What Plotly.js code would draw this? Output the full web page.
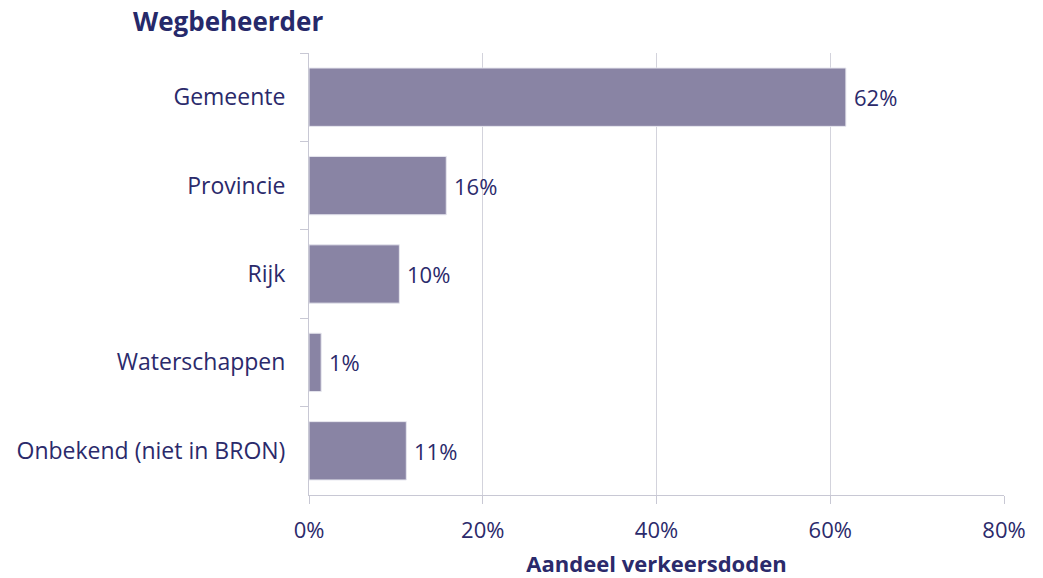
<!DOCTYPE html>
<html>
<head>
<meta charset="utf-8">
<script src="https://cdn.plot.ly/plotly-3.0.1.min.js"></script>
<style>html,body{margin:0;padding:0;background:#fff;}#chart{width:1043px;height:578px;}</style>
</head>
<body>
<div id="chart"></div>
<script>
const categories = ["Gemeente", "Provincie", "Rijk", "Waterschappen", "Onbekend (niet in BRON)"];
const shares = [61.8, 15.8, 10.4, 1.4, 11.2];
const labels = ["62%", "16%", "10%", "1%", "11%"];
const xTicks = [0, 20, 40, 60, 80];
const xTickLabels = ["0%", "20%", "40%", "60%", "80%"];

const textColor = "#2b2a6b";
const fontFam = "'Open Sans', sans-serif";

const trace = {
  type: "bar",
  orientation: "h",
  y: categories,
  x: shares,
  marker: {color: "#8984a4", line: {color: "#e6e6ee", width: 1}},
  width: 0.66,
  hoverinfo: "skip"
};

const annotations = categories.map((c, i) => ({
  x: shares[i], y: c, xref: "x", yref: "y",
  text: labels[i], showarrow: false, xanchor: "left", yanchor: "middle",
  xshift: 6, font: {family: fontFam, size: 22, color: textColor}
}));

const layout = {
  width: 1043, height: 578,
  margin: {l: 309, r: 39, t: 53, b: 83},
  paper_bgcolor: "#fff", plot_bgcolor: "#fff",
  showlegend: false,
  title: {
    text: "<b>Wegbeheerder</b>", x: 133 / 1043, xref: "container", xanchor: "left",
    y: 0.962, yanchor: "middle",
    font: {family: fontFam, size: 26, color: "#26296a"}
  },
  xaxis: {
    range: [0, 80], tickvals: xTicks, ticktext: xTickLabels,
    showgrid: true, gridcolor: "#d3d3dc", gridwidth: 1,
    showline: true, linecolor: "#c8c8d4", linewidth: 1,
    ticks: "outside", ticklen: 8, tickcolor: "#c8c8d4",
    zeroline: false, fixedrange: true, ticklabelstandoff: 8,
    tickfont: {family: fontFam, size: 22, color: textColor},
    title: {text: "<b>Aandeel verkeersdoden</b>", standoff: 16,
            font: {family: fontFam, size: 22, color: textColor}}
  },
  yaxis: {
    type: "category", autorange: "reversed",
    categoryorder: "array", categoryarray: categories,
    showline: true, linecolor: "#c8c8d4", linewidth: 1,
    ticks: "outside", ticklen: 8, tickcolor: "#c8c8d4",
    tickson: "boundaries", showgrid: false, zeroline: false,
    ticklabelstandoff: 18,
    tickfont: {family: fontFam, size: 23, color: textColor}
  },
  annotations: annotations
};

Plotly.newPlot("chart", [trace], layout, {displayModeBar: false, staticPlot: true});
</script>
</body>
</html>
